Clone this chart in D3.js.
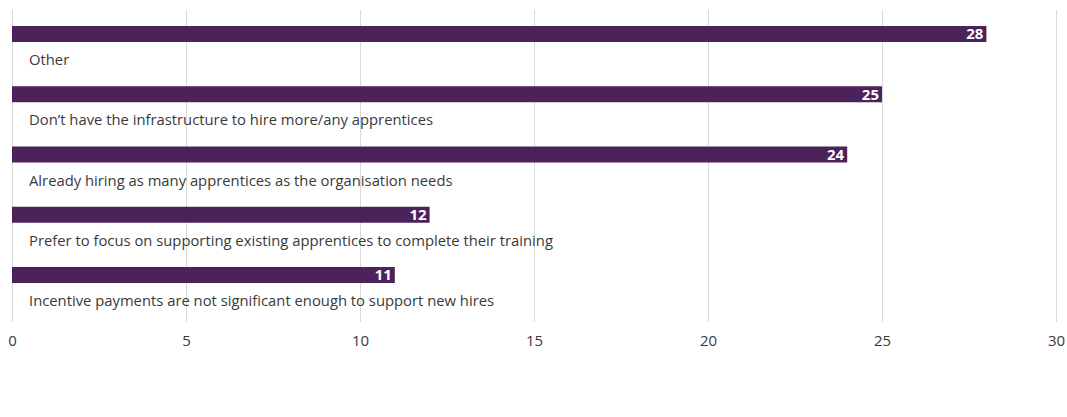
<!DOCTYPE html>
<html>
<head>
<meta charset="utf-8">
<script src="https://cdn.jsdelivr.net/npm/d3@7"></script>
<style>
  html, body { margin: 0; padding: 0; background: #fff; }
  svg { display: block; }
  text { font-family: "Open Sans", Lato, sans-serif; }
</style>
</head>
<body>
<svg id="chart" width="1067" height="417"></svg>
<script>
// Reasons for not hiring more apprentices (counts)
const categories = [
  "Other",
  "Don\u2019t have the infrastructure to hire more/any apprentices",
  "Already hiring as many apprentices as the organisation needs",
  "Prefer to focus on supporting existing apprentices to complete their training",
  "Incentive payments are not significant enough to support new hires"
];
const values = [28, 25, 24, 12, 11];
const tickValues = [0, 5, 10, 15, 20, 25, 30];

(function draw() {
  const svg = d3.select("#chart");
  const plotLeft = 12, plotRight = 1056, gridTop = 10, gridBottom = 322;
  const barH = 16;
  const font = "'Open Sans', Lato, sans-serif";

  const x = d3.scaleLinear().domain([0, 30]).range([plotLeft, plotRight]);
  const y = d3.scaleBand().domain(categories).range([26, 26 + 5 * 60.25]).padding(0);

  // vertical gridlines
  svg.append("g").selectAll("line")
    .data(tickValues)
    .join("line")
    .attr("x1", d => Math.round(x(d)) + 0.5)
    .attr("x2", d => Math.round(x(d)) + 0.5)
    .attr("y1", gridTop)
    .attr("y2", gridBottom)
    .attr("stroke", "#d9d9d9")
    .attr("stroke-width", 1);

  // axis tick labels
  const axis = d3.axisBottom(x).tickValues(tickValues).tickSize(0).tickPadding(0);
  const ax = svg.append("g").attr("transform", "translate(0,335)").call(axis);
  ax.select(".domain").remove();
  ax.selectAll("text")
    .attr("font-family", font)
    .attr("font-size", 15)
    .attr("fill", "#3a3a3a")
    .attr("dy", "0.71em");

  const rows = svg.append("g").selectAll("g")
    .data(categories.map((c, i) => ({ c, v: values[i] })))
    .join("g")
    .attr("transform", d => `translate(0,${y(d.c)})`);

  rows.append("rect")
    .attr("x", x(0))
    .attr("y", 0)
    .attr("width", d => x(d.v) - x(0))
    .attr("height", barH)
    .attr("fill", "#4b2259");

  rows.append("text")
    .attr("x", d => x(d.v) - 3)
    .attr("y", barH / 2)
    .attr("dy", "0.36em")
    .attr("text-anchor", "end")
    .attr("fill", "#fff")
    .attr("font-weight", "bold")
    .attr("font-size", 15)
    .text(d => d.v);

  rows.append("text")
    .attr("x", 29)
    .attr("y", 39)
    .attr("fill", "#3a3a3a")
    .attr("font-size", 14.8)
    .text(d => d.c);
})();
</script>
</body>
</html>
